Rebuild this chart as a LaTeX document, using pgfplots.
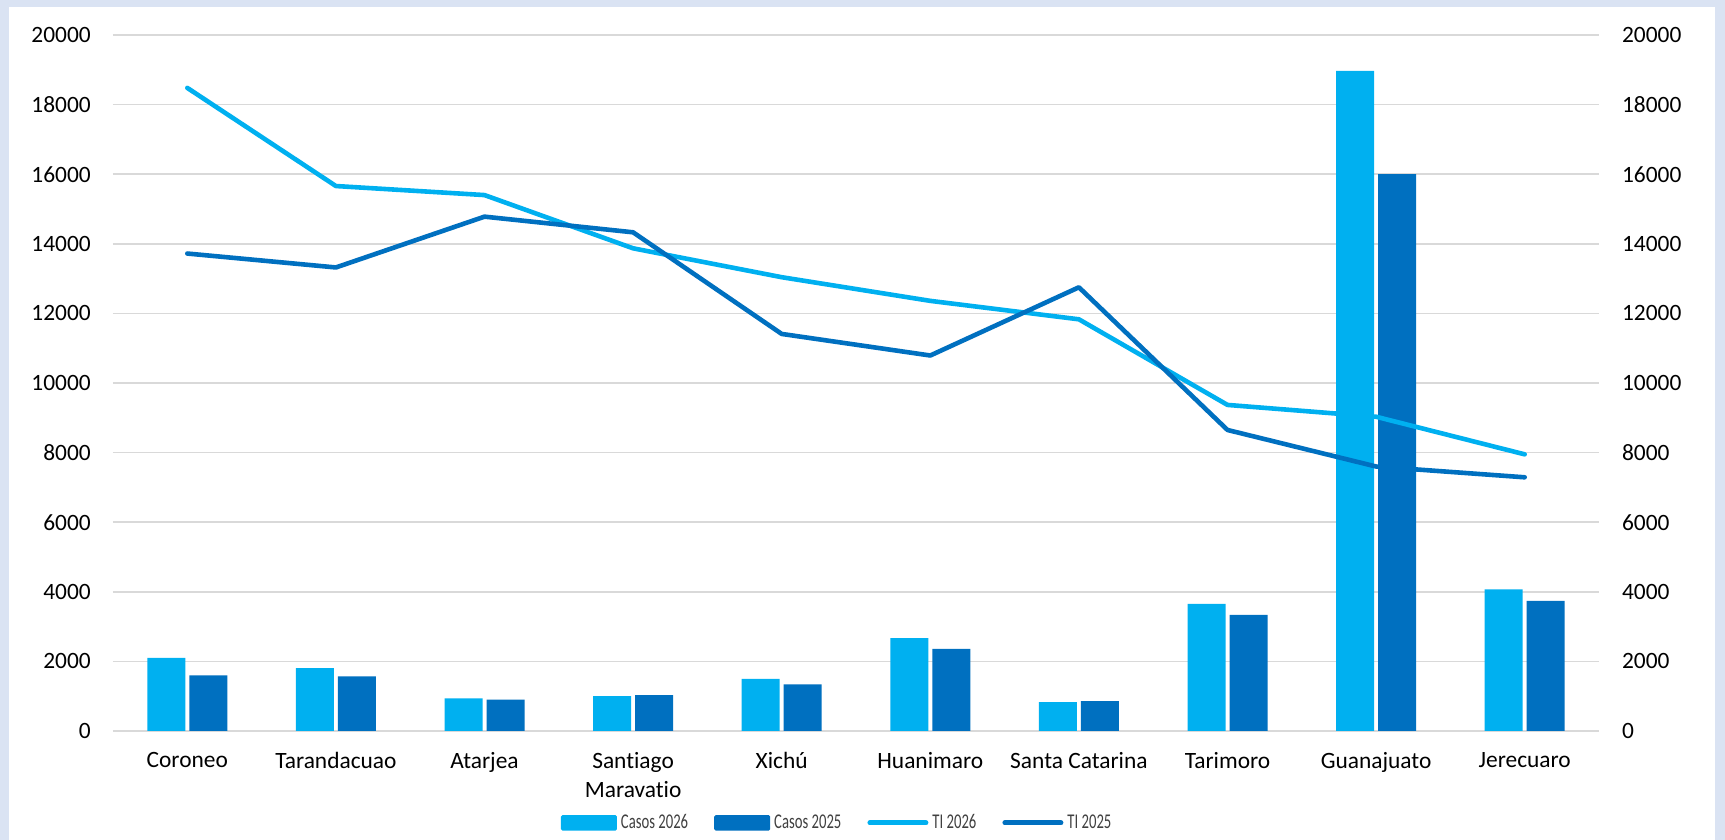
\documentclass[border=0pt]{standalone}
\usepackage{pgfplots}
\pgfplotsset{compat=1.18}
\usepackage{fontspec}
\setmainfont{Carlito}[Ligatures={NoCommon}]
\definecolor{cA}{HTML}{00B0F0}
\definecolor{cB}{HTML}{0070C0}
\definecolor{gridc}{HTML}{D9D9D9}
\definecolor{bgc}{HTML}{DAE3F3}
\definecolor{legc}{HTML}{404040}
\begin{document}
\begin{tikzpicture}
\fill[bgc] (0,0) rectangle (862.5pt,420pt);
\fill[white] (4.5pt,0) rectangle (857.5pt,416.5pt);
\begin{axis}[
  at={(56.5pt,54.5pt)}, anchor=south west,
  scale only axis, width=743pt, height=348pt,
  xmin=-0.5, xmax=9.5, ymin=0, ymax=20000,
  xtick={0,...,9},
  xticklabels={Coroneo,Tarandacuao,Atarjea,{Sant\kern0pt iago\\Maravat\kern0pt io},Xichú,Huanimaro,Santa Catarina,Tarimoro,Guanajuato,Jerecuaro},
  ytick={0,2000,...,20000},
  scaled y ticks=false,
  yticklabel style={/pgf/number format/assume math mode=true,/pgf/number format/1000 sep={},font=\fontsize{11.7}{14}\selectfont, xshift=-7.6pt},
  xticklabel style={align=center,font=\fontsize{11.7}{14.5}\selectfont, yshift=-7pt},
  axis line style={draw=none},
  major tick length=0pt,
  ymajorgrids, grid style={gridc, line width=0.8pt},
  legend columns=4,
  legend style={at={(0.488,-0.132)}, anchor=center, draw=none, fill=none,
    font=\fontsize{10.5}{11}\selectfont\color{legc},
    /tikz/every even column/.append style={column sep=11pt},
    inner sep=0pt},
  legend cell align=left,
]
\addplot[ybar, bar width=19pt, bar shift=-10.5pt, fill=cA, draw=none,
  legend image code/.code={\fill[cA, rounded corners=0.8pt] (0pt,-3.9pt) rectangle (28pt,3.9pt);}]
  coordinates {(0,2100) (1,1810) (2,940) (3,1000) (4,1500) (5,2670) (6,830) (7,3650) (8,18970) (9,4070)};
\addlegendentry{\scalebox{0.7}[1]{Casos 2026}}
\addplot[ybar, bar width=19pt, bar shift=10.5pt, fill=cB, draw=none,
  legend image code/.code={\fill[cB, rounded corners=0.8pt] (0pt,-3.9pt) rectangle (28pt,3.9pt);}]
  coordinates {(0,1600) (1,1570) (2,900) (3,1030) (4,1340) (5,2360) (6,860) (7,3340) (8,16000) (9,3740)};
\addlegendentry{\scalebox{0.7}[1]{Casos 2025}}
\addplot[cA, line width=2.3pt, line cap=round, line join=round, mark=none,
  legend image code/.code={\draw[cA, line width=2.5pt, line cap=round] (0pt,0pt) -- (28pt,0pt);}]
  coordinates {(0,18480) (1,15660) (2,15400) (3,13870) (4,13040) (5,12360) (6,11830) (7,9370) (8,9030) (9,7950)};
\addlegendentry{\scalebox{0.7}[1]{TI 2026}}
\addplot[cB, line width=2.3pt, line cap=round, line join=round, mark=none,
  legend image code/.code={\draw[cB, line width=2.5pt, line cap=round] (0pt,0pt) -- (28pt,0pt);}]
  coordinates {(0,13720) (1,13320) (2,14780) (3,14330) (4,11410) (5,10790) (6,12750) (7,8650) (8,7600) (9,7290)};
\addlegendentry{\scalebox{0.7}[1]{TI 2025}}
\end{axis}
\begin{axis}[
  at={(56.5pt,54.5pt)}, anchor=south west,
  scale only axis, width=743pt, height=348pt,
  xmin=-0.5, xmax=9.5, ymin=0, ymax=20000,
  hide x axis,
  axis y line*=right,
  axis line style={draw=none},
  major tick length=0pt,
  ytick={0,2000,...,20000},
  scaled y ticks=false,
  yticklabel style={/pgf/number format/assume math mode=true,/pgf/number format/1000 sep={},font=\fontsize{11.7}{14}\selectfont, xshift=8pt, anchor=west},
]
\addplot[draw=none, forget plot] coordinates {(0,0)};
\end{axis}
\end{tikzpicture}
\end{document}
